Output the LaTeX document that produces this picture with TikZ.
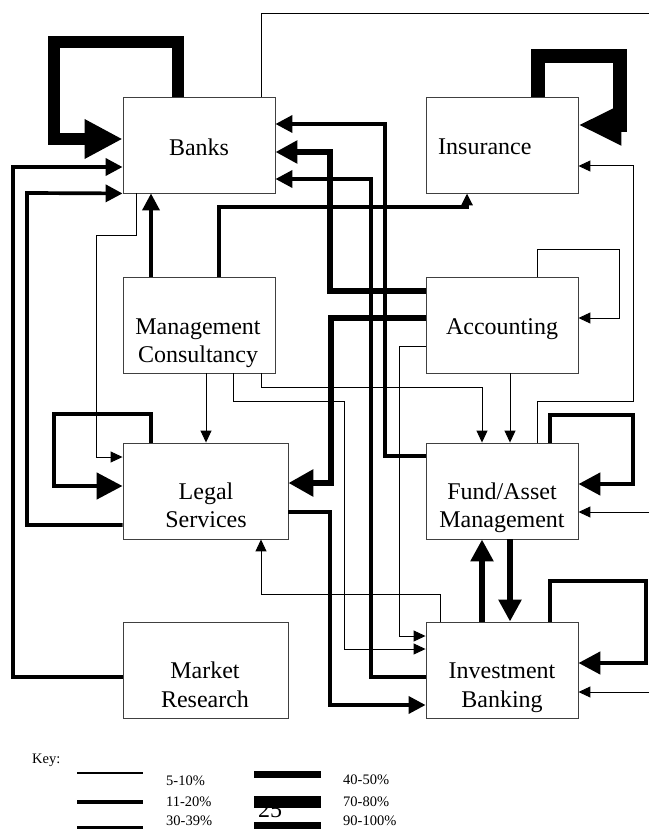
\documentclass[tikz,border=0pt]{standalone}
\usepackage{fontspec}
\setmainfont{Liberation Serif}
\usetikzlibrary{arrows.meta}
\begin{document}
\begin{tikzpicture}[x=1pt,y=-1pt,
  box/.style={draw=black!75,line width=0.9pt,inner sep=0pt,minimum height=96pt,minimum width=152pt},
  wbox/.style={box,minimum width=165pt},
  lbl/.style={font=\fontsize{24}{28}\selectfont,anchor=base,inner sep=0pt},
  keytxt/.style={font=\fontsize{14.5}{17}\selectfont,anchor=base west,inner sep=0pt},
  c1/.style={line width=1pt},
  c2/.style={line width=3.7pt},
  c3/.style={line width=4.7pt},
  c4/.style={line width=6pt},
  c7/.style={line width=12pt},
  c9/.style={line width=14pt},
  a1/.style={-{Triangle[length=12pt,width=11pt]}},
  a2/.style={-{Triangle[length=17pt,width=17pt]}},
  a3/.style={-{Triangle[length=22pt,width=22pt]}},
  a4/.style={-{Triangle[length=25pt,width=26pt]}},
  a5/.style={-{Triangle[length=26pt,width=26pt]}},
  abank/.style={-{Triangle[length=38pt,width=37pt]}},
  ains/.style={-{Triangle[length=43pt,width=38pt]}}
]
\useasboundingbox (0,0) rectangle (649,829);

% boxes
\node[box]  (banks)  at (199,145) {};
\node[box]  (insur)  at (502,145) {};
\node[box]  (mc)     at (199,325) {};
\node[box]  (acct)   at (502,325) {};
\node[wbox] (legal)  at (205.5,491) {};
\node[box]  (fund)   at (502,491) {};
\node[wbox] (market) at (205.5,670) {};
\node[box]  (ib)     at (502,670) {};

% labels
\node[lbl] (banks-t) at (199,156) {Banks};
\node[lbl,anchor=base west] (insur-t) at (438,155) {Insurance};
\node[lbl] (mc-t1) at (198,334) {Management};
\node[lbl] (mc-t2) at (198,362) {Consultancy};
\node[lbl] (acct-t) at (502,334) {Accounting};
\node[lbl] (legal-t1) at (206,499) {Legal};
\node[lbl] (legal-t2) at (206,527) {Services};
\node[lbl] (fund-t1) at (502,499) {Fund/Asset};
\node[lbl] (fund-t2) at (502,527) {Management};
\node[lbl] (market-t1) at (205,678) {Market};
\node[lbl] (market-t2) at (205,707) {Research};
\node[lbl] (ib-t1) at (502,678) {Investment};
\node[lbl] (ib-t2) at (502,707) {Banking};

% free ends at the right edge
\coordinate (edgeA) at (649,14);
\coordinate (edgeB) at (649,512);
\coordinate (edgeC) at (649,692);

% self loops
\draw[c7,abank] (banks.north -| 178,0) |- (54,42) |- (banks.west |- 0,139);
\draw[c9,ains] (insur.north -| 538,0) |- (620,56) |- (insur.east |- 0,125);
\draw[c1,a1] (acct.north -| 537,0) |- (619,249) |- (acct.east |- 0,318);
\draw[c3,a3] (fund.north -| 550,0) |- (633,415) |- (fund.east |- 0,484);
\draw[c3,a3] (ib.north -| 550,0) |- (646,581) |- (ib.east |- 0,663);
\draw[c3,a5] (legal.north -| 151,0) |- (54,414) |- (legal.west |- 0,486);

% into Banks
\draw[c2,a2] (market.west |- 0,677) -| (13,167) -- (banks.west |- 0,167);
\draw[c2,a2] (legal.west |- 0,525) -| (27,193) -- (banks.south west);
\draw[c2,a2] (mc.north -| 151,0) -- (banks.south -| 151,0);
\draw[c2,a2] (fund.west |- 0,456) -| (385,124) -- (banks.east |- 0,124);
\draw[c4,a3] (acct.west |- 0,291) -| (330,152) -- (banks.east |- 0,152);
\draw[c2,a2] (ib.west |- 0,677) -| (371,179) -- (banks.east |- 0,179);

% from Banks
\draw[c1,a1] (banks.south -| 136,0) |- (96,235) |- (legal.west |- 0,457);
\draw[c1] (banks.north -| 261,0) |- (edgeA);

% from Management Consultancy
\draw[c2,a1] (mc.north -| 219,0) |- (467,207) -- (insur.south -| 467,0);
\draw[c1,a1] (mc.south -| 261,0) |- (482,387) -- (fund.north -| 482,0);
\draw[c1,a1] (mc.south -| 233,0) |- (344,401) |- (ib.west |- 0,649);
\draw[c1,a1] (mc.south -| 206,0) -- (legal.north -| 206,0);

% from Accounting
\draw[c4,a4] (acct.west |- 0,318) -| (331,483) -- (legal.east |- 0,483);
\draw[c1,a1] (acct.west |- 0,346) -| (399,636) -- (ib.west |- 0,636);
\draw[c1,a1] (acct.south -| 510,0) -- (fund.north -| 510,0);

% Fund/Asset
\draw[c1,a1] (fund.north -| 537,0) |- (633,401) |- (insur.east |- 0,166);
\draw[c1,a1] (edgeB) -- (fund.east |- 0,512);
\draw[c4,a3] (fund.south -| 510,0) -- (ib.north -| 510,0);
\draw[c4,a3] (ib.north -| 482,0) -- (fund.south -| 482,0);

% Investment Banking / Legal
\draw[c1,a1] (edgeC) -- (ib.east |- 0,692);
\draw[c1,a1] (ib.north -| 440,0) |- (261,594) -- (legal.south -| 261,0);
\draw[c2,a2] (legal.east |- 0,512) -| (330,705) -- (ib.west |- 0,705);

% key
\node[keytxt] (key) at (32,763) {Key:};
\node[font=\fontsize{24}{28}\selectfont,anchor=base west,inner sep=0pt] (pageno) at (258,817) {25};
\draw[line width=1.3pt] (77,773) -- (143,773);
\draw[line width=3.3pt] (77,802) -- (143,802);
\draw[line width=4.5pt] (77,828) -- (143,828);
\draw[line width=6.7pt] (254,774.5) -- (321,774.5);
\draw[line width=11.7pt] (254,802) -- (321,802);
\draw[line width=14pt] (254,829) -- (321,829);
\node[keytxt] (k1) at (166,785) {5-10\%};
\node[keytxt] (k2) at (166,806) {11-20\%};
\node[keytxt] (k3) at (166,825.5) {30-39\%};
\node[keytxt] (k4) at (343,784) {40-50\%};
\node[keytxt] (k5) at (343,806) {70-80\%};
\node[keytxt] (k6) at (343,825.5) {90-100\%};
\end{tikzpicture}
\end{document}
